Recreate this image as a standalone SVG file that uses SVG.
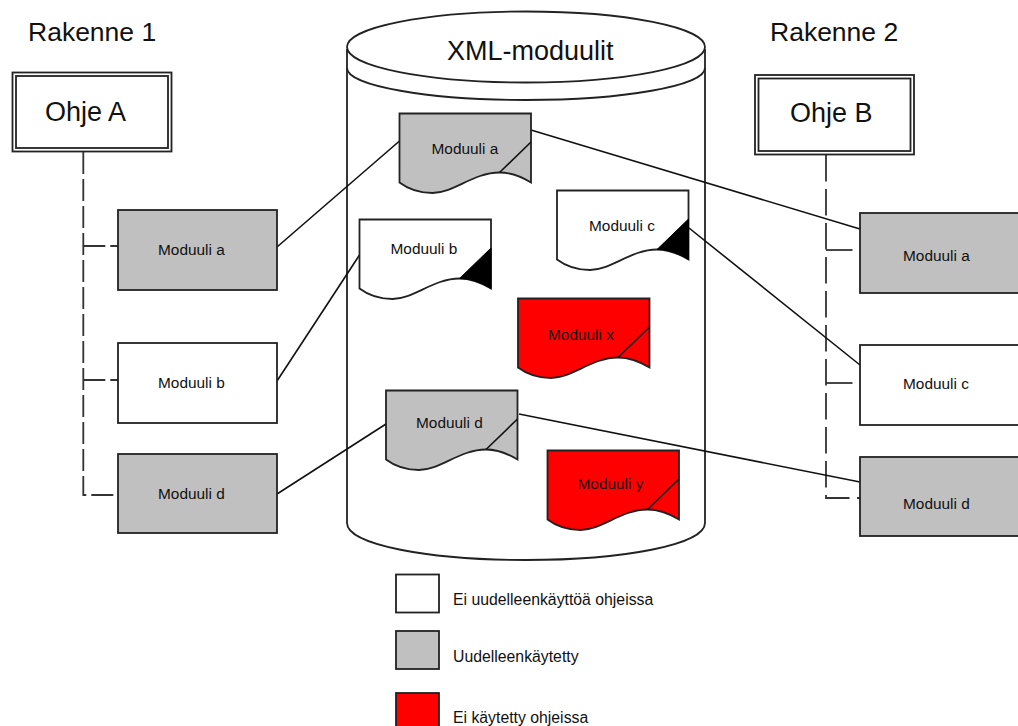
<svg xmlns="http://www.w3.org/2000/svg" width="1018" height="726" viewBox="0 0 1018 726">
<style>
text{font-family:"Liberation Sans",Arial,sans-serif;fill:#111}
.big{font-size:27px}
.ttl{font-size:26.500px}
.mod{font-size:15.400px}
.leg{font-size:15.800px}
.box{stroke:#222;stroke-width:1.800}
.w{fill:#fff}.g{fill:#c0c0c0}.r{fill:#f00}
.line{stroke:#111;stroke-width:1.600;fill:none}
.dashl{stroke:#333;stroke-width:1.800;fill:none;stroke-dasharray:22 5}
.dashr{stroke:#333;stroke-width:1.800;fill:none;stroke-dasharray:26.500 7.500}
.frame{fill:#fff;stroke:#222;stroke-width:1.800}
</style>
<defs>
<path id="doc" d="M0 0H131.500V69C120 62 110 59 100 59C74 59 54 79.500 33 79.500C18 79.500 8 75 0 69Z"/>
<path id="ear" d="M131.500 28.500L100 59C110 59 120 62 131.500 69Z"/>
</defs>

<g id="cylinder">
<path class="frame" d="M347 50V523C347 545 430 560 526 560C622 560 705 545 705 523V50Z"/>
<path class="frame" style="fill:none" d="M347 68C347 86 430 100 526 100C622 100 705 86 705 68"/>
<ellipse class="frame" cx="526" cy="47" rx="179" ry="35.500"/>
<text class="big" x="447" y="60">XML-moduulit</text>
</g>

<g id="connectors">
<path class="dashl" d="M83.300 152V495H118"/>
<path class="dashl" d="M83.300 246H118"/>
<path class="dashl" d="M83.300 380H118"/>
<path class="dashr" d="M826 155V498H860"/>
<path class="dashr" d="M826 250H860"/>
<path class="dashr" d="M826 383H860"/>
<path class="line" d="M277 247L399.500 141"/>
<path class="line" d="M277 381L359.500 255"/>
<path class="line" d="M277 494L386 424"/>
<path class="line" d="M531 130L860 229"/>
<path class="line" d="M689 228L860 365"/>
<path class="line" d="M519 414L860 482"/>
</g>

<g id="title-1"><text class="ttl" x="28" y="41">Rakenne 1</text></g>
<g id="title-2"><text class="ttl" x="770" y="41">Rakenne 2</text></g>

<g id="ohje-a">
<rect class="box w" x="12.500" y="72.500" width="159" height="79"/>
<rect class="box w" x="16" y="76" width="152" height="72"/>
<text class="big" x="45" y="121">Ohje A</text>
</g>
<g id="ohje-b">
<rect class="box w" x="755" y="75" width="159" height="79.500"/>
<rect class="box w" x="758.500" y="78.500" width="152" height="72.500"/>
<text class="big" x="790" y="122">Ohje B</text>
</g>

<g id="left-a"><rect class="box g" x="118" y="210" width="159" height="80"/><text class="mod" x="158" y="255">Moduuli a</text></g>
<g id="left-b"><rect class="box w" x="118" y="343" width="159" height="80"/><text class="mod" x="158" y="388">Moduuli b</text></g>
<g id="left-d"><rect class="box g" x="118" y="454" width="159" height="79"/><text class="mod" x="158" y="499">Moduuli d</text></g>

<g id="right-a"><rect class="box g" x="860" y="213" width="160" height="80"/><text class="mod" x="903" y="261">Moduuli a</text></g>
<g id="right-c"><rect class="box w" x="860" y="345" width="160" height="80"/><text class="mod" x="903" y="389">Moduuli c</text></g>
<g id="right-d"><rect class="box g" x="860" y="457" width="160" height="79"/><text class="mod" x="903" y="509">Moduuli d</text></g>

<g id="doc-a" transform="translate(399.500 113.500)"><use href="#doc" class="box g"/><path class="line" d="M131.500 28.500L100 59"/><text class="mod" x="32" y="40">Moduuli a</text></g>
<g id="doc-b" transform="translate(359.500 219.500)"><use href="#doc" class="box w"/><use href="#ear" fill="#000" stroke="#000"/><text class="mod" x="31" y="34">Moduuli b</text></g>
<g id="doc-c" transform="translate(557 190.500)"><use href="#doc" class="box w"/><use href="#ear" fill="#000" stroke="#000"/><text class="mod" x="32" y="40">Moduuli c</text></g>
<g id="doc-x" transform="translate(518 298.500)"><use href="#doc" class="box r"/><path class="line" d="M131.500 28.500L100 59"/><text class="mod" x="30" y="41">Moduuli x</text></g>
<g id="doc-d" transform="translate(386 390.500)"><use href="#doc" class="box g"/><path class="line" d="M131.500 28.500L100 59"/><text class="mod" x="30" y="37">Moduuli d</text></g>
<g id="doc-y" transform="translate(547.500 450.500)"><use href="#doc" class="box r"/><path class="line" d="M131.500 28.500L100 59"/><text class="mod" x="30" y="38">Moduuli y</text></g>

<g id="legend-white"><rect class="box w" x="396" y="574.500" width="43" height="38"/><text class="leg" x="453" y="605">Ei uudelleenkäyttöä ohjeissa</text></g>
<g id="legend-grey"><rect class="box g" x="396" y="631" width="43" height="38"/><text class="leg" x="453" y="662">Uudelleenkäytetty</text></g>
<g id="legend-red"><rect class="box r" x="396" y="693" width="43" height="38"/><text class="leg" x="453" y="723">Ei käytetty ohjeissa</text></g>
</svg>
